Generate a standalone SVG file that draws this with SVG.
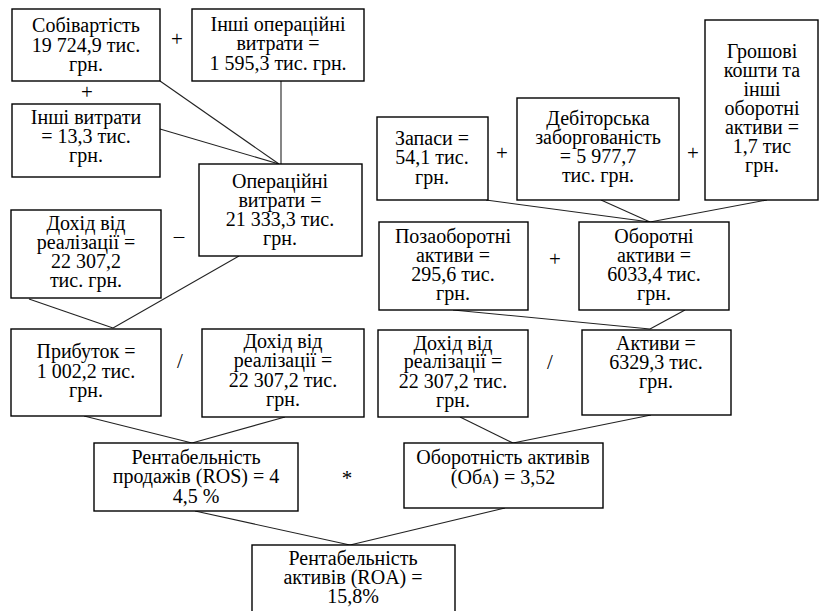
<svg xmlns="http://www.w3.org/2000/svg" width="820" height="611" viewBox="0 0 820 611">
<rect width="820" height="611" fill="#fff"/>
<g id="conn" stroke="#222" stroke-width="1.1">
<line x1="160" y1="81" x2="279" y2="164"/>
<line x1="281" y1="81" x2="281" y2="164"/>
<line x1="160" y1="129" x2="279" y2="164"/>
<line x1="29" y1="299" x2="113" y2="328"/>
<line x1="239" y1="256" x2="113" y2="328"/>
<line x1="486" y1="200" x2="650" y2="222"/>
<line x1="601" y1="200" x2="650" y2="222"/>
<line x1="767" y1="200" x2="650" y2="222"/>
<line x1="453" y1="310" x2="650" y2="329"/>
<line x1="685" y1="310" x2="650" y2="329"/>
<line x1="84" y1="416" x2="192" y2="443"/>
<line x1="285" y1="417" x2="192" y2="443"/>
<line x1="460" y1="417" x2="513" y2="443"/>
<line x1="651" y1="415" x2="513" y2="443"/>
<line x1="195" y1="511" x2="350" y2="545"/>
<line x1="505" y1="508" x2="350" y2="545"/>
</g>
<g id="boxes" fill="#fff" stroke="#000" stroke-width="1.4">
<rect x="12" y="9" width="148" height="72"/>
<rect x="192" y="9" width="172" height="72"/>
<rect x="12" y="104" width="148" height="73"/>
<rect x="199" y="164" width="163" height="92"/>
<rect x="11" y="210" width="150" height="88"/>
<rect x="377" y="117" width="111" height="83"/>
<rect x="517" y="98" width="162" height="102"/>
<rect x="705" y="20" width="113" height="180"/>
<rect x="379" y="222" width="149" height="88"/>
<rect x="579" y="222" width="150" height="88"/>
<rect x="11" y="329" width="150" height="87"/>
<rect x="202" y="329" width="162" height="88"/>
<rect x="378" y="330" width="150" height="87"/>
<rect x="582" y="330" width="149" height="85"/>
<rect x="94" y="443" width="204" height="68"/>
<rect x="404" y="443" width="199" height="65"/>
<rect x="252" y="545" width="203" height="75"/>
</g>
<g id="n-sobivartist">
<text x="86" y="32" text-anchor="middle" font-family="Liberation Serif" font-size="20">Собівартість</text>
<text x="86" y="52" text-anchor="middle" font-family="Liberation Serif" font-size="20">19 724,9 тис.</text>
<text x="86" y="71" text-anchor="middle" font-family="Liberation Serif" font-size="20">грн.</text></g>
<g id="n-inshi-oper">
<text x="278" y="31" text-anchor="middle" font-family="Liberation Serif" font-size="20">Інші операційні</text>
<text x="278" y="50" text-anchor="middle" font-family="Liberation Serif" font-size="20">витрати =</text>
<text x="278" y="70" text-anchor="middle" font-family="Liberation Serif" font-size="20">1 595,3 тис. грн.</text></g>
<g id="n-inshi-vytraty">
<text x="86" y="124" text-anchor="middle" font-family="Liberation Serif" font-size="20">Інші витрати</text>
<text x="86" y="143" text-anchor="middle" font-family="Liberation Serif" font-size="20">= 13,3 тис.</text>
<text x="86" y="162" text-anchor="middle" font-family="Liberation Serif" font-size="20">грн.</text></g>
<g id="n-oper-vytraty">
<text x="280" y="188" text-anchor="middle" font-family="Liberation Serif" font-size="20">Операційні</text>
<text x="280" y="207" text-anchor="middle" font-family="Liberation Serif" font-size="20">витрати =</text>
<text x="280" y="226" text-anchor="middle" font-family="Liberation Serif" font-size="20">21 333,3 тис.</text>
<text x="280" y="245" text-anchor="middle" font-family="Liberation Serif" font-size="20">грн.</text></g>
<g id="n-dokhid1">
<text x="86" y="230" text-anchor="middle" font-family="Liberation Serif" font-size="20">Дохід від</text>
<text x="86" y="249" text-anchor="middle" font-family="Liberation Serif" font-size="20">реалізації =</text>
<text x="86" y="268" text-anchor="middle" font-family="Liberation Serif" font-size="20">22 307,2</text>
<text x="86" y="287" text-anchor="middle" font-family="Liberation Serif" font-size="20">тис. грн.</text></g>
<g id="n-zapasy">
<text x="432" y="145" text-anchor="middle" font-family="Liberation Serif" font-size="20">Запаси =</text>
<text x="432" y="164" text-anchor="middle" font-family="Liberation Serif" font-size="20">54,1 тис.</text>
<text x="432" y="184" text-anchor="middle" font-family="Liberation Serif" font-size="20">грн.</text></g>
<g id="n-debitor">
<text x="598" y="125" text-anchor="middle" font-family="Liberation Serif" font-size="20">Дебіторська</text>
<text x="598" y="144" text-anchor="middle" font-family="Liberation Serif" font-size="20">заборгованість</text>
<text x="598" y="163" text-anchor="middle" font-family="Liberation Serif" font-size="20">= 5 977,7</text>
<text x="598" y="182" text-anchor="middle" font-family="Liberation Serif" font-size="20">тис. грн.</text></g>
<g id="n-hroshovi">
<text x="762" y="58" text-anchor="middle" font-family="Liberation Serif" font-size="20">Грошові</text>
<text x="762" y="77" text-anchor="middle" font-family="Liberation Serif" font-size="20">кошти та</text>
<text x="762" y="96" text-anchor="middle" font-family="Liberation Serif" font-size="20">інші</text>
<text x="762" y="115" text-anchor="middle" font-family="Liberation Serif" font-size="20">оборотні</text>
<text x="762" y="134" text-anchor="middle" font-family="Liberation Serif" font-size="20">активи =</text>
<text x="762" y="153" text-anchor="middle" font-family="Liberation Serif" font-size="20">1,7 тис</text>
<text x="762" y="172" text-anchor="middle" font-family="Liberation Serif" font-size="20">грн.</text></g>
<g id="n-pozaoborotni">
<text x="453" y="243" text-anchor="middle" font-family="Liberation Serif" font-size="20">Позаоборотні</text>
<text x="453" y="262" text-anchor="middle" font-family="Liberation Serif" font-size="20">активи =</text>
<text x="453" y="281" text-anchor="middle" font-family="Liberation Serif" font-size="20">295,6 тис.</text>
<text x="453" y="300" text-anchor="middle" font-family="Liberation Serif" font-size="20">грн.</text></g>
<g id="n-oborotni">
<text x="654" y="243" text-anchor="middle" font-family="Liberation Serif" font-size="20">Оборотні</text>
<text x="654" y="262" text-anchor="middle" font-family="Liberation Serif" font-size="20">активи =</text>
<text x="654" y="281" text-anchor="middle" font-family="Liberation Serif" font-size="20">6033,4 тис.</text>
<text x="654" y="300" text-anchor="middle" font-family="Liberation Serif" font-size="20">грн.</text></g>
<g id="n-prybutok">
<text x="86" y="358" text-anchor="middle" font-family="Liberation Serif" font-size="20">Прибуток =</text>
<text x="86" y="378" text-anchor="middle" font-family="Liberation Serif" font-size="20">1 002,2 тис.</text>
<text x="86" y="397" text-anchor="middle" font-family="Liberation Serif" font-size="20">грн.</text></g>
<g id="n-dokhid2">
<text x="283" y="348" text-anchor="middle" font-family="Liberation Serif" font-size="20">Дохід від</text>
<text x="283" y="367" text-anchor="middle" font-family="Liberation Serif" font-size="20">реалізації =</text>
<text x="283" y="387" text-anchor="middle" font-family="Liberation Serif" font-size="20">22 307,2 тис.</text>
<text x="283" y="406" text-anchor="middle" font-family="Liberation Serif" font-size="20">грн.</text></g>
<g id="n-dokhid3">
<text x="453" y="350" text-anchor="middle" font-family="Liberation Serif" font-size="20">Дохід від</text>
<text x="453" y="368" text-anchor="middle" font-family="Liberation Serif" font-size="20">реалізації =</text>
<text x="453" y="388" text-anchor="middle" font-family="Liberation Serif" font-size="20">22 307,2 тис.</text>
<text x="453" y="407" text-anchor="middle" font-family="Liberation Serif" font-size="20">грн.</text></g>
<g id="n-aktyvy">
<text x="656" y="350" text-anchor="middle" font-family="Liberation Serif" font-size="20">Активи =</text>
<text x="656" y="369" text-anchor="middle" font-family="Liberation Serif" font-size="20">6329,3 тис.</text>
<text x="656" y="388" text-anchor="middle" font-family="Liberation Serif" font-size="20">грн.</text></g>
<g id="n-ros">
<text x="196" y="464" text-anchor="middle" font-family="Liberation Serif" font-size="20">Рентабельність</text>
<text x="196" y="483" text-anchor="middle" font-family="Liberation Serif" font-size="20">продажів (ROS) = 4</text>
<text x="196" y="503" text-anchor="middle" font-family="Liberation Serif" font-size="20">4,5 %</text></g>
<g id="n-oba">
<text x="503" y="464" text-anchor="middle" font-family="Liberation Serif" font-size="20">Оборотність активів</text>
<text x="503" y="484" text-anchor="middle" font-family="Liberation Serif" font-size="20">(Об<tspan font-family="Liberation Serif" font-size="14">А</tspan>) = 3,52</text></g>
<g id="n-roa">
<text x="353" y="565" text-anchor="middle" font-family="Liberation Serif" font-size="20">Рентабельність</text>
<text x="353" y="584" text-anchor="middle" font-family="Liberation Serif" font-size="20">активів (ROA) =</text>
<text x="353" y="603" text-anchor="middle" font-family="Liberation Serif" font-size="20">15,8%</text></g>
<g id="ops">
<text x="177" y="46" text-anchor="middle" font-family="Liberation Serif" font-size="21">+</text>
<text x="87" y="99" text-anchor="middle" font-family="Liberation Serif" font-size="21">+</text>
<text x="179" y="243" text-anchor="middle" font-family="Liberation Serif" font-size="21">–</text>
<text x="502" y="160" text-anchor="middle" font-family="Liberation Serif" font-size="21">+</text>
<text x="693" y="160" text-anchor="middle" font-family="Liberation Serif" font-size="21">+</text>
<text x="555" y="266" text-anchor="middle" font-family="Liberation Serif" font-size="21">+</text>
<text x="180" y="368" text-anchor="middle" font-family="Liberation Serif" font-size="21">/</text>
<text x="550" y="369" text-anchor="middle" font-family="Liberation Serif" font-size="21">/</text>
<text x="347" y="485" text-anchor="middle" font-family="Liberation Serif" font-size="21">*</text>
</g>
</svg>
